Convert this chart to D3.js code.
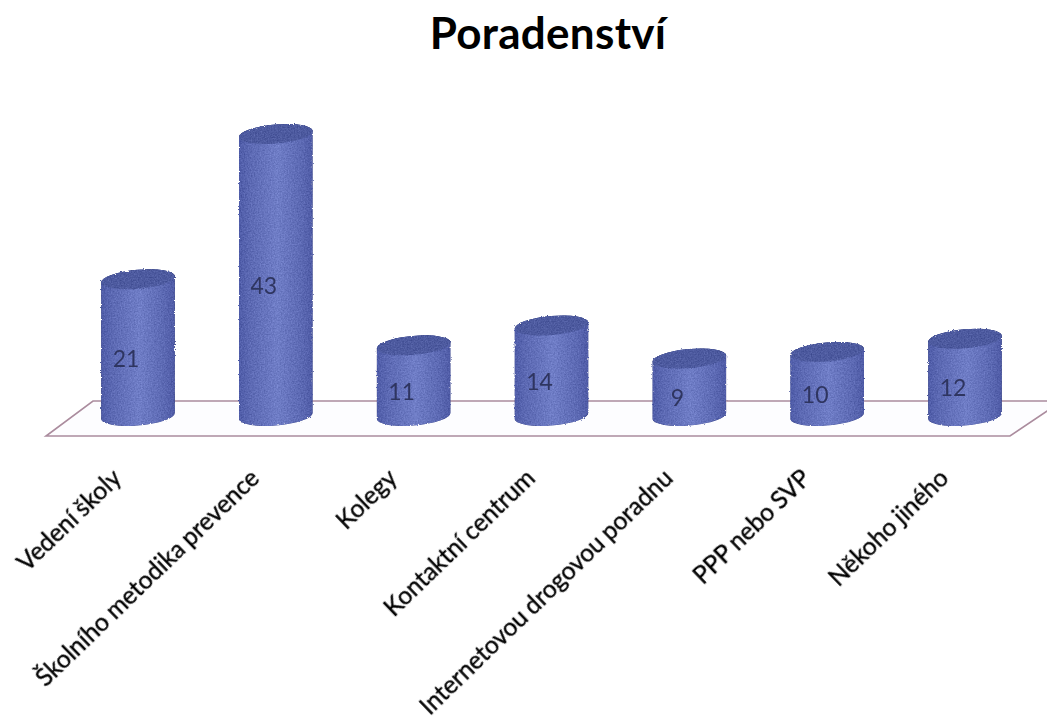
<!DOCTYPE html>
<html>
<head>
<meta charset="utf-8">
<script src="https://cdn.jsdelivr.net/npm/d3@7"></script>
<style>
html, body { margin: 0; padding: 0; background: #fff; }
svg { display: block; }
text { font-family: Lato, "Open Sans", sans-serif; }
</style>
</head>
<body>
<div id="chart"></div>
<script>
const width = 1047;
const height = 725;

const categories = ["Vedení školy", "Školního metodika prevence", "Kolegy", "Kontaktní centrum",
    "Internetovou drogovou poradnu", "PPP nebo SVP", "Někoho jiného"];
const values = [21, 43, 11, 14, 9, 10, 12];
const titleText = "Poradenství";

const rx = 37;
const ry = 9.5;
const tilt = -5;
const baseY = 416;

const x = d3.scalePoint()
    .domain(categories)
    .range([138, 965]);

const y = d3.scaleLinear()
    .domain([0, 43])
    .range([418, 134]);

const svg = d3.select("#chart")
    .append("svg")
    .attr("width", width)
    .attr("height", height);

const defs = svg.append("defs");

const side = defs.append("linearGradient").attr("id", "side");
side.append("stop").attr("offset", "0%").attr("stop-color", "#4f5ca8");
side.append("stop").attr("offset", "15%").attr("stop-color", "#5c69b3");
side.append("stop").attr("offset", "52%").attr("stop-color", "#6f7dc6");
side.append("stop").attr("offset", "85%").attr("stop-color", "#5c69b3");
side.append("stop").attr("offset", "100%").attr("stop-color", "#4f5ba6");

// grain, the original is a scan
const grain = defs.append("filter")
    .attr("id", "grain")
    .attr("color-interpolation-filters", "sRGB")
    .attr("x", "-5%").attr("y", "-5%")
    .attr("width", "110%").attr("height", "110%");
grain.append("feTurbulence")
    .attr("type", "fractalNoise")
    .attr("baseFrequency", 0.7)
    .attr("numOctaves", 2)
    .attr("seed", 4)
    .attr("result", "noise");
grain.append("feDisplacementMap")
    .attr("in", "SourceGraphic")
    .attr("in2", "noise")
    .attr("scale", 2.5)
    .attr("result", "moved");
grain.append("feGaussianBlur")
    .attr("in", "moved")
    .attr("stdDeviation", 0.6)
    .attr("result", "smooth");
grain.append("feColorMatrix")
    .attr("in", "noise")
    .attr("type", "matrix")
    .attr("values", "1 0 0 0 0  1 0 0 0 0  1 0 0 0 0  0 0 0 0 1")
    .attr("result", "gray");
grain.append("feComposite")
    .attr("in", "gray")
    .attr("in2", "smooth")
    .attr("operator", "in")
    .attr("result", "speck");
grain.append("feComposite")
    .attr("in", "smooth")
    .attr("in2", "speck")
    .attr("operator", "arithmetic")
    .attr("k1", 0)
    .attr("k2", 1)
    .attr("k3", 0.2)
    .attr("k4", -0.1);

const soft = defs.append("filter").attr("id", "soft");
soft.append("feGaussianBlur").attr("stdDeviation", 0.5);

// floor
const floor = [[93, 401], [1062, 401], [1010, 436], [46, 436]];
svg.append("path")
    .attr("d", d3.line()(floor) + "Z")
    .attr("fill", "#fdfdff")
    .attr("stroke", "#ab8c9e")
    .attr("stroke-width", 1.6)
    .attr("filter", "url(#soft)");

function cylinderPath(cx, topY, botY) {
    const a = tilt * Math.PI / 180;
    const dx = rx * Math.cos(a);
    const dy = rx * Math.sin(a);
    return `M${cx - dx},${topY - dy}` +
        `L${cx - dx},${botY - dy}` +
        `A${rx},${ry} ${tilt} 0 0 ${cx + dx},${botY + dy}` +
        `L${cx + dx},${topY + dy}` +
        `A${rx},${ry} ${tilt} 0 0 ${cx - dx},${topY - dy}Z`;
}

const bars = svg.append("g")
    .attr("class", "bars")
    .selectAll("g")
    .data(categories.map((c, i) => ({ name: c, value: values[i] })))
    .enter().append("g")
    .attr("filter", "url(#grain)");

bars.append("path")
    .attr("d", d => cylinderPath(x(d.name), y(d.value), baseY))
    .attr("fill", "url(#side)");

bars.append("ellipse")
    .attr("rx", rx)
    .attr("ry", ry)
    .attr("transform", d => `translate(${x(d.name)},${y(d.value)}) rotate(${tilt})`)
    .attr("fill", "#4d5a9f");

svg.append("g")
    .selectAll("text")
    .data(categories.map((c, i) => ({ name: c, value: values[i] })))
    .enter().append("text")
    .attr("x", d => x(d.name) - 12)
    .attr("y", d => (y(d.value) + baseY) / 2 + 19)
    .attr("text-anchor", "middle")
    .attr("font-size", 23)
    .attr("fill", "#2f3560")
    .attr("filter", "url(#soft)")
    .text(d => d.value);

svg.append("g")
    .selectAll("text")
    .data(categories)
    .enter().append("text")
    .attr("text-anchor", "end")
    .attr("transform", d => `translate(${x(d) - 15},${480}) rotate(-44)`)
    .attr("font-size", 24.4)
    .attr("word-spacing", -1)
    .attr("fill", "#000")
    .attr("stroke", "#000")
    .attr("stroke-width", 0.35)
    .attr("filter", "url(#soft)")
    .text(d => d);

svg.append("text")
    .attr("x", 548)
    .attr("y", 49)
    .attr("text-anchor", "middle")
    .attr("font-size", 44)
    .attr("letter-spacing", 0.3)
    .attr("font-weight", 700)
    .attr("fill", "#000")
    .text(titleText);
</script>
</body>
</html>
